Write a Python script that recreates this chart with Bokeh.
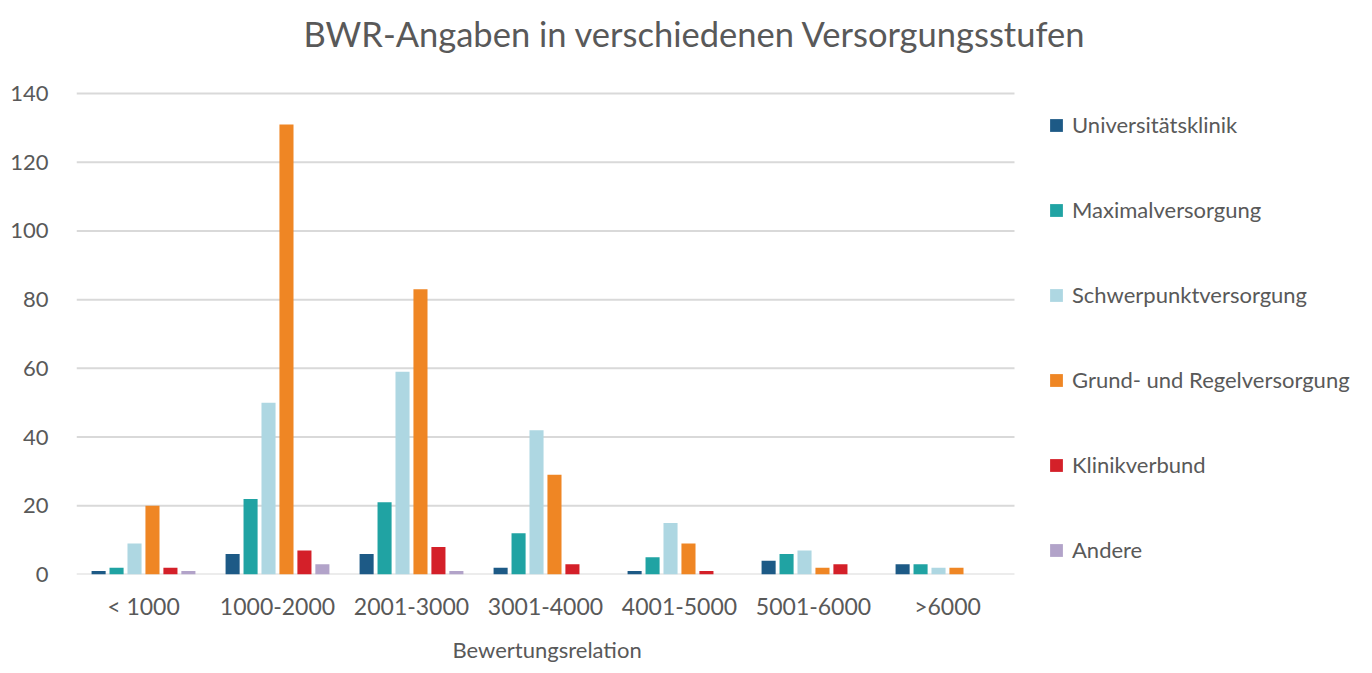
from bokeh.plotting import figure
from bokeh.models import (ColumnDataSource, Legend, LegendItem, Label, FixedTicker, Range1d, Title)
from bokeh.transform import dodge
from bokeh.embed import file_html
from bokeh.resources import INLINE

categories = ["< 1000", "1000-2000", "2001-3000", "3001-4000", "4001-5000", "5001-6000", ">6000"]
series_names = ["Universitätsklinik", "Maximalversorgung", "Schwerpunktversorgung",
                "Grund- und Regelversorgung", "Klinikverbund", "Andere"]
universitaetsklinik = [1, 6, 6, 2, 1, 4, 3]
maximalversorgung = [2, 22, 21, 12, 5, 6, 3]
schwerpunktversorgung = [9, 50, 59, 42, 15, 7, 2]
grund_regelversorgung = [20, 131, 83, 29, 9, 2, 2]
klinikverbund = [2, 7, 8, 3, 1, 3, 0]
andere = [1, 3, 1, 0, 0, 0, 0]
colors = ["#1d5a86", "#20a3a3", "#aed7e2", "#ef8624", "#d42029", "#b2a3c9"]
y_ticks = [0, 20, 40, 60, 80, 100, 120, 140]
title_text = "BWR-Angaben in verschiedenen Versorgungsstufen"
x_label = "Bewertungsrelation"

# layout (pixels)
W, H = 1372, 673
LEFT, BOTTOM = 76, 99
PLOT_W, PLOT_H = 938, 481          # area holding the 7 groups / 0..140
n = len(categories)
y_max = y_ticks[-1]
frame_w = W - LEFT
frame_h = H - BOTTOM
x_end = n * frame_w / PLOT_W
y_end = y_max * frame_h / PLOT_H
px_per_x = PLOT_W / n
px_per_y = PLOT_H / y_max

values = [universitaetsklinik, maximalversorgung, schwerpunktversorgung,
          grund_regelversorgung, klinikverbund, andere]
keys = ["s%d" % i for i in range(6)]
centers = [i + 0.5 for i in range(n)]
data = {"x": centers, "cat": categories}
for k, v in zip(keys, values):
    data[k] = v
src = ColumnDataSource(data)

FONT = "Lato"
GREY = "#595959"

p = figure(x_range=Range1d(0, x_end), y_range=Range1d(0, y_end), title=None,
           width=W, height=H, output_backend="svg", toolbar_location=None,
           min_border_left=LEFT, min_border_right=0, min_border_top=0, min_border_bottom=BOTTOM)

# horizontal grid lines only across the category area
p.segment(x0=[0] * len(y_ticks), x1=[n] * len(y_ticks), y0=y_ticks, y1=y_ticks,
          line_color="#d9d9d9", line_width=2)

step = 0.134
bw = 0.105
items = []
for i, (k, name, c) in enumerate(zip(keys, series_names, colors)):
    off = (i - 2.5) * step
    r = p.vbar(x=dodge("x", off), top=k, width=bw, source=src,
               fill_color=c, line_color=None)
    items.append(LegendItem(label=name, renderers=[r]))

legend = Legend(items=items, location=(972, 11), orientation="vertical",
                glyph_width=16, glyph_height=16, label_height=26,
                spacing=58, label_standoff=8, padding=0, margin=0,
                border_line_alpha=0, background_fill_alpha=0,
                label_text_font=FONT, label_text_font_size="22px", label_text_color=GREY)
p.add_layout(legend, "center")

title = Label(x=(303 - LEFT) / px_per_x, y=(frame_h - 33) / px_per_y, text=title_text,
              text_font=FONT, text_font_size="34.5px", text_color=GREY,
              text_align="left", text_baseline="middle")
p.add_layout(title)

p.xgrid.grid_line_color = None
p.ygrid.grid_line_color = None
p.outline_line_color = None

p.yaxis.ticker = FixedTicker(ticks=y_ticks)
p.xaxis.ticker = FixedTicker(ticks=centers)
p.xaxis.major_label_overrides = {c: name for c, name in zip(centers, categories)}
p.xaxis.bounds = (0, n)
p.yaxis.bounds = (0, y_max)

for ax in (p.xaxis, p.yaxis):
    ax.axis_line_color = None
    ax.major_tick_line_color = None
    ax.minor_tick_line_color = None
    ax.major_tick_out = 0
    ax.major_tick_in = 0
    ax.minor_tick_out = 0
    ax.minor_tick_in = 0
    ax.major_label_text_font = FONT
    ax.major_label_text_font_size = "22px"
    ax.major_label_text_color = GREY

p.yaxis.major_label_standoff = 28
p.xaxis.major_label_text_font_size = "23px"
p.xaxis.major_label_standoff = 17

# x-axis title, placed under the category area
xlab = Title(text=x_label, align="left", offset=376, standoff=22,
             text_font=FONT, text_font_size="22px", text_font_style="normal",
             text_color=GREY)
p.add_layout(xlab, "below")

open("out.html", "w").write(file_html(p, INLINE))
